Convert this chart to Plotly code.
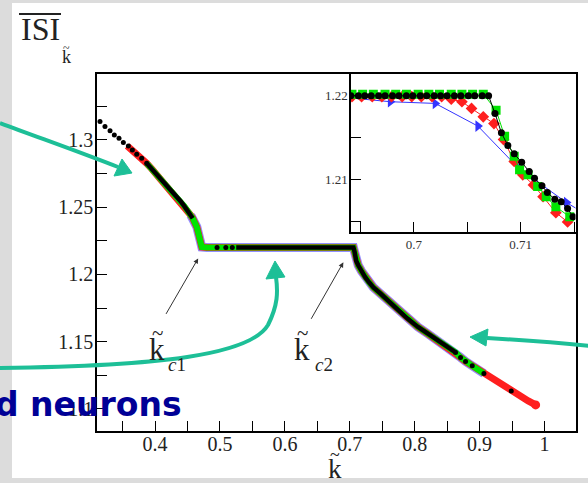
import plotly.graph_objects as go

W, H = 588, 483

# ---------------- main panel: mean ISI versus normalised coupling ----------------
# upper branch (below k_c1)
upper_k = [0.357, 0.365, 0.372, 0.380, 0.387, 0.395, 0.400, 0.405, 0.410, 0.415, 0.420,
           0.425, 0.430, 0.435, 0.440, 0.445, 0.450, 0.455, 0.458, 0.4643, 0.4694, 0.4720]
upper_isi = [1.2955, 1.2925, 1.2893, 1.2860, 1.2826, 1.2784, 1.2756, 1.2727, 1.2697, 1.2672, 1.2648,
             1.2622, 1.2596, 1.2570, 1.2540, 1.2508, 1.2474, 1.2440, 1.2418, 1.2353, 1.2254, 1.2204]

# locked plateau between k_c1 and k_c2
plateau_k = [0.4720, 0.4800, 0.5000, 0.5250, 0.5500, 0.6000, 0.6500, 0.7000, 0.7056]
plateau_isi = [1.2204, 1.2200, 1.2200, 1.2200, 1.2200, 1.2200, 1.2200, 1.2200, 1.2201]

# lower branch (above k_c2)
lower_k = [0.7056, 0.7075, 0.7100, 0.7130, 0.7180, 0.7240, 0.7300, 0.7364, 0.7472, 0.7600,
           0.7750, 0.7889, 0.8050, 0.8200, 0.8350, 0.8500, 0.8630, 0.8707, 0.8784, 0.8887,
           0.9067, 0.9200, 0.9350, 0.9488, 0.9600, 0.9750, 0.9864]
lower_isi = [1.2201, 1.2165, 1.2100, 1.2068, 1.2025, 1.1978, 1.1940, 1.1903, 1.1858, 1.1800,
             1.1735, 1.1672, 1.1610, 1.1560, 1.1512, 1.1463, 1.1420, 1.1383, 1.1353, 1.1321,
             1.1264, 1.1220, 1.1175, 1.1134, 1.1100, 1.1060, 1.1030]

# isolated black samples (coarse sampling at the ends of the run)
black_dot_k = [0.3151, 0.3228, 0.3306, 0.3372, 0.3444, 0.3511, 0.3588, 0.3650, 0.3717, 0.3794,
               0.3871, 0.4955, 0.5090, 0.5190, 0.8630, 0.8707, 0.8784, 0.8887, 0.9067, 0.9488]
black_dot_isi = [1.3137, 1.3099, 1.3069, 1.3037, 1.3012, 1.2980, 1.2955, 1.2925, 1.2893, 1.2863,
                 1.2826, 1.2200, 1.2200, 1.2200, 1.1420, 1.1383, 1.1353, 1.1321, 1.1264, 1.1134]

main_xticks = [0.4, 0.5, 0.6, 0.7, 0.8, 0.9, 1.0]
main_xlabels = ["0.4", "0.5", "0.6", "0.7", "0.8", "0.9", "1"]
main_xminor = [0.35, 0.45, 0.55, 0.65, 0.75, 0.85, 0.95, 1.05]
main_yticks = [1.1, 1.15, 1.2, 1.25, 1.3]
main_ylabels = ["1.1", "1.15", "1.2", "1.25", "1.3"]
main_yminor = [1.125, 1.175, 1.225, 1.275, 1.325]

# ---------------- inset: zoom around k_c2 ----------------
ins_black_k = [0.6941, 0.6948, 0.6954, 0.6960, 0.6967, 0.6973, 0.6980, 0.6986, 0.6993, 0.6999,
               0.7006, 0.7012, 0.7019, 0.7025, 0.7031, 0.7038, 0.7044, 0.7051, 0.7057, 0.7064,
               0.7070, 0.7076, 0.7082, 0.7088, 0.7094, 0.7101, 0.7108, 0.7113, 0.7120, 0.7125,
               0.7132, 0.7138, 0.7144, 0.7149]
ins_black_isi = [1.2200, 1.2200, 1.2200, 1.2200, 1.2200, 1.2200, 1.2200, 1.2200, 1.2200, 1.2200,
                 1.2200, 1.2200, 1.2200, 1.2200, 1.2200, 1.2200, 1.2200, 1.2200, 1.2200, 1.2200,
                 1.2200, 1.2179, 1.2156, 1.2141, 1.2131, 1.2121, 1.2110, 1.2102, 1.2093, 1.2085,
                 1.2077, 1.2074, 1.2066, 1.2056]

ins_green_k = [0.6942, 0.6952, 0.6962, 0.6973, 0.6983, 0.6993, 0.7004, 0.7014, 0.7024, 0.7035,
               0.7045, 0.7055, 0.7065, 0.7077, 0.7085, 0.7094, 0.7099, 0.7107, 0.7116, 0.7124,
               0.7133, 0.7146]
ins_green_isi = [1.2202, 1.2202, 1.2202, 1.2202, 1.2202, 1.2202, 1.2202, 1.2202, 1.2202, 1.2202,
                 1.2202, 1.2202, 1.2202, 1.2183, 1.2152, 1.2128, 1.2112, 1.2106, 1.2092, 1.2080,
                 1.2068, 1.2056]

ins_red_k = [0.6942, 0.6951, 0.6961, 0.6970, 0.6979, 0.6989, 0.6998, 0.7007, 0.7017, 0.7026,
             0.7035, 0.7045, 0.7054, 0.7065, 0.7075, 0.7084, 0.7094, 0.7102, 0.7112, 0.7121,
             0.7133, 0.7144]
ins_red_isi = [1.2199, 1.2199, 1.2199, 1.2199, 1.2199, 1.2199, 1.2199, 1.2199, 1.2199, 1.2199,
               1.2196, 1.2193, 1.2185, 1.2175, 1.2167, 1.2148, 1.2122, 1.2106, 1.2094, 1.2080,
               1.2061, 1.2050]

ins_blue_k = [0.6920, 0.6978, 0.7020, 0.7060, 0.7098, 0.7143, 0.7160]
ins_blue_isi = [1.2200, 1.2193, 1.2191, 1.2164, 1.2114, 1.2073, 1.2060]

ins_xticks = [0.7, 0.71]
ins_xlabels = ["0.7", "0.71"]
ins_xminor = [0.695, 0.705, 0.715]
ins_yticks = [1.21, 1.22]
ins_ylabels = ["1.21", "1.22"]
ins_yminor = [1.205, 1.215]

RED = "#ff1f1f"
GREEN = "#00e400"
BLUE = "#3434ff"
TEAL = "#1dbf97"
INK = "#222222"
SERIF = "Liberation Serif"


def fx(px):
    return px / W


def fy(py):
    return 1 - py / H


fig = go.Figure()

# main panel curves, drawn bottom to top: blue, red, green, black
blue_k = upper_k[17:] + plateau_k[1:] + lower_k[1:21]
blue_isi = upper_isi[17:] + plateau_isi[1:] + lower_isi[1:21]
fig.add_trace(go.Scatter(x=blue_k, y=blue_isi, mode="lines",
                         line=dict(color="rgba(52,52,255,0.55)", width=9)))

red_k = upper_k + plateau_k[1:] + lower_k[1:]
red_isi = upper_isi + plateau_isi[1:] + lower_isi[1:]
fig.add_trace(go.Scatter(x=red_k, y=red_isi, mode="lines",
                         line=dict(color=RED, width=7)))
fig.add_trace(go.Scatter(x=red_k[-1:], y=red_isi[-1:], mode="markers",
                         marker=dict(color=RED, size=9)))

green_k = upper_k[4:] + plateau_k[1:] + lower_k[1:21]
green_isi = upper_isi[4:] + plateau_isi[1:] + lower_isi[1:21]
fig.add_trace(go.Scatter(x=green_k, y=green_isi, mode="lines",
                         line=dict(color=GREEN, width=6)))

black_k = upper_k[4:19] + [None] + plateau_k[3:] + lower_k[1:17]
black_isi = upper_isi[4:19] + [None] + plateau_isi[3:] + lower_isi[1:17]
fig.add_trace(go.Scatter(x=black_k, y=black_isi, mode="lines", connectgaps=False,
                         line=dict(color="black", width=4.5)))
fig.add_trace(go.Scatter(x=black_dot_k, y=black_dot_isi, mode="markers",
                         marker=dict(color="black", size=5)))

# inset curves
fig.add_trace(go.Scatter(x=ins_blue_k, y=ins_blue_isi, mode="lines+markers",
                         xaxis="x2", yaxis="y2",
                         line=dict(color=BLUE, width=1),
                         marker=dict(color=BLUE, size=10, symbol="triangle-right")))
fig.add_trace(go.Scatter(x=ins_red_k, y=ins_red_isi, mode="lines+markers",
                         xaxis="x2", yaxis="y2",
                         line=dict(color=RED, width=1),
                         marker=dict(color=RED, size=9, symbol="diamond")))
fig.add_trace(go.Scatter(x=ins_green_k, y=ins_green_isi, mode="lines+markers",
                         xaxis="x2", yaxis="y2",
                         line=dict(color=GREEN, width=1),
                         marker=dict(color=GREEN, size=9, symbol="square")))
fig.add_trace(go.Scatter(x=ins_black_k, y=ins_black_isi, mode="lines+markers",
                         xaxis="x2", yaxis="y2",
                         line=dict(color="black", width=1),
                         marker=dict(color="black", size=7)))

axis_common = dict(showline=True, mirror=True, linecolor="black", linewidth=1.5,
                   ticks="inside", ticklen=10, tickwidth=1.2, tickcolor="black",
                   showgrid=False, zeroline=False, tickmode="array")


def minor_ticks(vals):
    return dict(tickmode="array", tickvals=vals, ticks="inside", ticklen=10,
                tickwidth=1.2, tickcolor="black", showgrid=False)


fig.update_layout(
    width=W, height=H, autosize=False,
    margin=dict(l=0, r=0, t=0, b=0),
    paper_bgcolor="#dcdcdc", plot_bgcolor="white",
    showlegend=False,
    font=dict(family=SERIF, color=INK),
    xaxis=dict(axis_common, domain=[fx(97), fx(575.5)], range=[0.3105, 1.0478], anchor="y",
               tickvals=main_xticks, ticktext=main_xlabels, minor=minor_ticks(main_xminor),
               tickfont=dict(family=SERIF, size=20, color=INK), ticklabelstandoff=-6),
    yaxis=dict(axis_common, domain=[fy(431), fy(74)], range=[1.0836, 1.349], anchor="x",
               tickvals=main_yticks, ticktext=main_ylabels, minor=minor_ticks(main_yminor),
               tickfont=dict(family=SERIF, size=20, color=INK), ticklabelstandoff=-2),
    xaxis2=dict(axis_common, domain=[fx(351), fx(575.5)], range=[0.69411, 0.71514], anchor="y2",
                tickvals=ins_xticks, ticktext=ins_xlabels, minor=minor_ticks(ins_xminor),
                tickfont=dict(family=SERIF, size=13, color="#333333"), ticklabelstandoff=0),
    yaxis2=dict(axis_common, domain=[fy(232), fy(74)], range=[1.2038, 1.2226], anchor="x2",
                tickvals=ins_yticks, ticktext=ins_ylabels, minor=minor_ticks(ins_yminor),
                tickfont=dict(family=SERIF, size=13, color="#333333"), ticklabelstandoff=-1),
)


def path_from(points, close=False):
    parts = []
    for i, (px, py) in enumerate(points):
        parts.append(("M" if i == 0 else "L") + f" {fx(px):.5f},{fy(py):.5f}")
    return " ".join(parts) + (" Z" if close else "")


def bezier_path(start, segments):
    s = f"M {fx(start[0]):.5f},{fy(start[1]):.5f}"
    for c1, c2, end in segments:
        s += (f" C {fx(c1[0]):.5f},{fy(c1[1]):.5f} {fx(c2[0]):.5f},{fy(c2[1]):.5f}"
              f" {fx(end[0]):.5f},{fy(end[1]):.5f}")
    return s


shapes = [
    # white slide panel
    dict(type="rect", xref="paper", yref="paper", x0=fx(12), x1=fx(588), y0=fy(478), y1=fy(3),
         fillcolor="white", line=dict(width=0), layer="below"),
    # overline of the mean ISI symbol
    dict(type="line", xref="paper", yref="paper", x0=fx(19), x1=fx(61), y0=fy(14), y1=fy(14),
         line=dict(color=INK, width=2)),
    # pointer to the upper branch
    dict(type="path", xref="paper", yref="paper",
         path=bezier_path((0, 123), [((40, 138), (80, 152), (118, 167))]),
         line=dict(color=TEAL, width=4)),
    dict(type="path", xref="paper", yref="paper",
         path=path_from([(132, 173), (114, 176), (122, 159)], close=True),
         fillcolor=TEAL, line=dict(color=TEAL, width=1)),
    # pointer to the plateau
    dict(type="path", xref="paper", yref="paper",
         path=bezier_path((0, 368), [((160, 366), (250, 355), (268, 325)),
                                     ((278, 305), (278, 292), (276, 277))]),
         line=dict(color=TEAL, width=4)),
    dict(type="path", xref="paper", yref="paper",
         path=path_from([(275, 261), (266, 279), (285, 277)], close=True),
         fillcolor=TEAL, line=dict(color=TEAL, width=1)),
    # pointer to the lower branch
    dict(type="path", xref="paper", yref="paper",
         path=bezier_path((590, 346), [((560, 343), (520, 340), (487, 338))]),
         line=dict(color=TEAL, width=4)),
    dict(type="path", xref="paper", yref="paper",
         path=path_from([(470, 337), (488, 329), (486, 346)], close=True),
         fillcolor=TEAL, line=dict(color=TEAL, width=1)),
]
fig.update_layout(shapes=shapes)

annotations = [
    dict(text="ISI", x=fx(40), y=fy(29), font=dict(family=SERIF, size=32, color=INK)),
    dict(text="k", x=fx(66), y=fy(57), font=dict(family=SERIF, size=18, color=INK)),
    dict(text="~", x=fx(66), y=fy(48), font=dict(family=SERIF, size=12, color=INK)),
    # x-axis symbol
    dict(text="k", x=fx(335), y=fy(469), font=dict(family=SERIF, size=27, color=INK)),
    dict(text="~", x=fx(335), y=fy(455), font=dict(family=SERIF, size=18, color=INK)),
    # critical couplings
    dict(text="k", x=fx(157), y=fy(349), font=dict(family=SERIF, size=31, color=INK)),
    dict(text="~", x=fx(157), y=fy(333), font=dict(family=SERIF, size=21, color=INK)),
    dict(text="<i>c</i>1", x=fx(177), y=fy(364), font=dict(family=SERIF, size=19, color=INK)),
    dict(text="k", x=fx(302), y=fy(349), font=dict(family=SERIF, size=31, color=INK)),
    dict(text="~", x=fx(302), y=fy(333), font=dict(family=SERIF, size=21, color=INK)),
    dict(text="<i>c</i>2", x=fx(324), y=fy(364), font=dict(family=SERIF, size=19, color=INK)),
    dict(text="d neurons", x=fx(184), y=fy(404), xanchor="right",
         font=dict(family="DejaVu Sans", size=33, color="#000096", weight="bold")),
]
for a in annotations:
    a.setdefault("xref", "paper")
    a.setdefault("yref", "paper")
    a.setdefault("xanchor", "center")
    a.setdefault("yanchor", "middle")
    a.setdefault("showarrow", False)

# thin arrows marking k_c1 and k_c2
annotations += [
    dict(x=0.4664, y=1.2119, xref="x", yref="y", ax=-33, ay=57, text="", showarrow=True,
         arrowhead=2, arrowsize=1, arrowwidth=1, arrowcolor="#333333"),
    dict(x=0.6901, y=1.2090, xref="x", yref="y", ax=-33, ay=58, text="", showarrow=True,
         arrowhead=2, arrowsize=1, arrowwidth=1, arrowcolor="#333333"),
]
fig.update_layout(annotations=annotations)

fig.write_html("out.html")
